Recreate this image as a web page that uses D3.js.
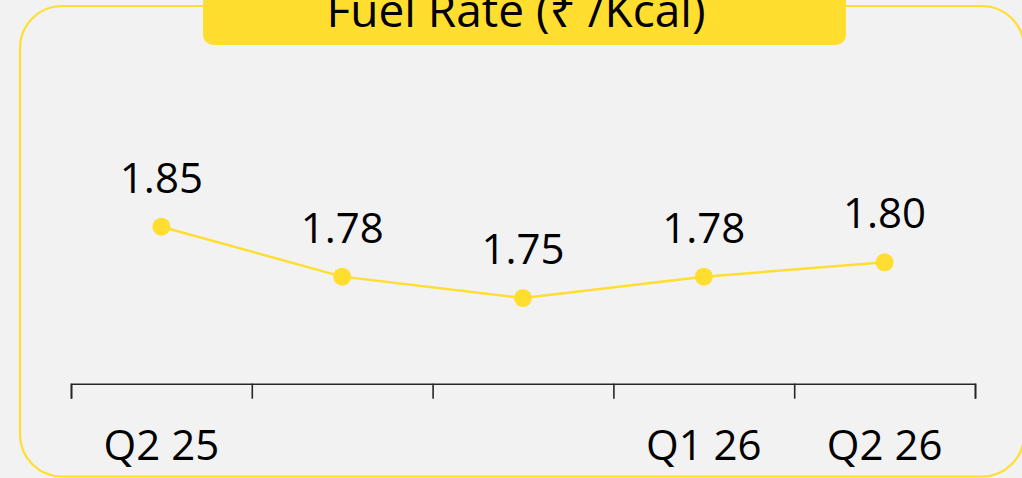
<!DOCTYPE html>
<html>
<head>
<meta charset="utf-8">
<script src="https://cdn.jsdelivr.net/npm/d3@7"></script>
<style>
  html, body { margin: 0; padding: 0; background: #f2f2f2; }
  text { font-family: "Open Sans", "Noto Sans", "DejaVu Sans", sans-serif; fill: #000; }
</style>
</head>
<body>
<div class="chart"></div>
<script>
// Fuel rate line chart
let svgWidth = 1022;
let svgHeight = 478;

let categories = ["Q2 25", "Q3 25", "Q4 25", "Q1 26", "Q2 26"];
let tickLabels = ["Q2 25", "", "", "Q1 26", "Q2 26"];
let fuelRate = [1.85, 1.78, 1.75, 1.78, 1.80];
let title = "Fuel Rate (\u20B9 /Kcal)";

let yellow = "#ffde2f";

let svg = d3.select(".chart")
  .append("svg")
  .attr("width", svgWidth)
  .attr("height", svgHeight)
  .style("display", "block");

// outer rounded frame
svg.append("rect")
  .attr("x", 20)
  .attr("y", 6)
  .attr("width", 1004)
  .attr("height", 470.5)
  .attr("rx", 42)
  .attr("fill", "none")
  .attr("stroke", yellow)
  .attr("stroke-width", 2.2);

// title box (top is cut off)
svg.append("rect")
  .attr("x", 203)
  .attr("y", -20)
  .attr("width", 643)
  .attr("height", 65)
  .attr("rx", 10)
  .attr("fill", yellow);

svg.append("text")
  .attr("x", 516)
  .attr("y", 27)
  .attr("text-anchor", "middle")
  .style("font-size", "46px")
  .text(title);

// scales
let xScale = d3.scaleBand()
  .domain(categories)
  .range([71, 975])
  .padding(0);

let yScale = d3.scaleLinear()
  .domain([1.63, 1.90])
  .range([383.7, 191]);

// axis line with ticks at the band edges
let tickScale = d3.scaleLinear()
  .domain([0, categories.length])
  .range([71, 975]);

let bottomAxis = d3.axisBottom(tickScale)
  .tickValues(d3.range(categories.length + 1))
  .tickSize(15)
  .tickSizeOuter(15)
  .tickFormat("");

let axisG = svg.append("g")
  .attr("transform", `translate(0, ${yScale(1.63)})`)
  .call(bottomAxis);
axisG.selectAll("path, line")
  .attr("stroke", "#262626")
  .attr("stroke-width", 1.6);

let cx = (d, i) => xScale(categories[i]) + xScale.bandwidth() / 2;

// category labels
svg.selectAll(".cat")
  .data(tickLabels)
  .enter()
  .append("text")
  .attr("class", "cat")
  .attr("x", cx)
  .attr("y", 460)
  .attr("text-anchor", "middle")
  .style("font-size", "42px")
  .text(d => d);

// line
let line = d3.line()
  .x((d, i) => cx(d, i))
  .y(d => yScale(d));

svg.append("path")
  .datum(fuelRate)
  .attr("d", line)
  .attr("fill", "none")
  .attr("stroke", yellow)
  .attr("stroke-width", 2.5);

svg.selectAll(".dot")
  .data(fuelRate)
  .enter()
  .append("circle")
  .attr("class", "dot")
  .attr("cx", cx)
  .attr("cy", d => yScale(d))
  .attr("r", 9)
  .attr("fill", yellow);

// data labels
svg.selectAll(".val")
  .data(fuelRate)
  .enter()
  .append("text")
  .attr("class", "val")
  .attr("x", cx)
  .attr("y", d => yScale(d) - 34)
  .attr("text-anchor", "middle")
  .style("font-size", "42px")
  .text(d => d.toFixed(2));
</script>
</body>
</html>
